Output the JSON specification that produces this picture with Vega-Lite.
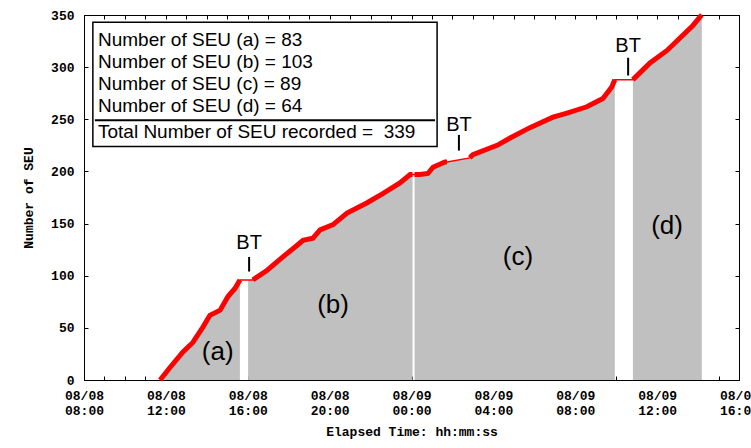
{
  "$schema": "https://vega.github.io/schema/vega-lite/v6.json",
  "width": 655,
  "height": 365,
  "autosize": "none",
  "padding": {"left": 84, "top": 15, "right": 12, "bottom": 68},
  "background": "white",
  "config": {
    "view": {"stroke": "black", "strokeWidth": 1},
    "axis": {
      "labelFont": "Liberation Mono", "labelFontWeight": "bold", "labelFontSize": 13, "labelColor": "black",
      "titleFont": "Liberation Mono", "titleFontWeight": "bold", "titleFontSize": 13, "titleColor": "black",
      "tickColor": "black", "domainColor": "black", "grid": false
    }
  },
  "datasets": {
    "seu": [
      {"t": "2008-08-08T11:43", "n": 0, "seg": "a", "run": "a"},
      {"t": "2008-08-08T12:12", "n": 12, "seg": "a", "run": "a"},
      {"t": "2008-08-08T12:50", "n": 27, "seg": "a", "run": "a"},
      {"t": "2008-08-08T13:19", "n": 36, "seg": "a", "run": "a"},
      {"t": "2008-08-08T13:49", "n": 51, "seg": "a", "run": "a"},
      {"t": "2008-08-08T14:09", "n": 62, "seg": "a", "run": "a"},
      {"t": "2008-08-08T14:39", "n": 67, "seg": "a", "run": "a"},
      {"t": "2008-08-08T15:02", "n": 80, "seg": "a", "run": "a"},
      {"t": "2008-08-08T15:23", "n": 88, "seg": "a", "run": "a"},
      {"t": "2008-08-08T15:37", "n": 96, "seg": "a", "run": "a"},
      {"t": "2008-08-08T16:01", "n": 96, "seg": "b", "run": "b0"},
      {"t": "2008-08-08T16:15", "n": 96, "seg": "b", "run": "b"},
      {"t": "2008-08-08T16:56", "n": 105, "seg": "b", "run": "b"},
      {"t": "2008-08-08T17:43", "n": 118, "seg": "b", "run": "b"},
      {"t": "2008-08-08T18:24", "n": 129, "seg": "b", "run": "b"},
      {"t": "2008-08-08T18:42", "n": 134, "seg": "b", "run": "b"},
      {"t": "2008-08-08T19:11", "n": 136, "seg": "b", "run": "b"},
      {"t": "2008-08-08T19:32", "n": 144, "seg": "b", "run": "b"},
      {"t": "2008-08-08T20:10", "n": 149, "seg": "b", "run": "b"},
      {"t": "2008-08-08T20:51", "n": 160, "seg": "b", "run": "b"},
      {"t": "2008-08-08T21:50", "n": 170, "seg": "b", "run": "b"},
      {"t": "2008-08-08T22:37", "n": 179, "seg": "b", "run": "b"},
      {"t": "2008-08-08T23:26", "n": 189, "seg": "b", "run": "b"},
      {"t": "2008-08-08T23:56", "n": 197, "seg": "b", "run": "b"},
      {"t": "2008-08-09T00:03", "n": 197, "seg": "b", "run": "b"},
      {"t": "2008-08-09T00:09", "n": 197, "seg": "c", "run": "c1"},
      {"t": "2008-08-09T00:25", "n": 197, "seg": "c", "run": "c1"},
      {"t": "2008-08-09T00:48", "n": 198, "seg": "c", "run": "c1"},
      {"t": "2008-08-09T01:03", "n": 204, "seg": "c", "run": "c1"},
      {"t": "2008-08-09T01:38", "n": 209, "seg": "c", "run": "c1"},
      {"t": "2008-08-09T01:44", "n": 209, "seg": "c", "run": "c1"},
      {"t": "2008-08-09T02:51", "n": 213, "seg": "c", "run": "c2"},
      {"t": "2008-08-09T03:00", "n": 216, "seg": "c", "run": "c2"},
      {"t": "2008-08-09T04:11", "n": 225, "seg": "c", "run": "c2"},
      {"t": "2008-08-09T04:49", "n": 232, "seg": "c", "run": "c2"},
      {"t": "2008-08-09T05:47", "n": 242, "seg": "c", "run": "c2"},
      {"t": "2008-08-09T06:55", "n": 252, "seg": "c", "run": "c2"},
      {"t": "2008-08-09T07:36", "n": 256, "seg": "c", "run": "c2"},
      {"t": "2008-08-09T08:34", "n": 262, "seg": "c", "run": "c2"},
      {"t": "2008-08-09T09:21", "n": 270, "seg": "c", "run": "c2"},
      {"t": "2008-08-09T09:47", "n": 281, "seg": "c", "run": "c2"},
      {"t": "2008-08-09T09:56", "n": 288, "seg": "c", "run": "c2"},
      {"t": "2008-08-09T10:49", "n": 288, "seg": "d", "run": "d"},
      {"t": "2008-08-09T11:39", "n": 304, "seg": "d", "run": "d"},
      {"t": "2008-08-09T12:29", "n": 316, "seg": "d", "run": "d"},
      {"t": "2008-08-09T13:07", "n": 328, "seg": "d", "run": "d"},
      {"t": "2008-08-09T13:45", "n": 340, "seg": "d", "run": "d"},
      {"t": "2008-08-09T14:05", "n": 348, "seg": "d", "run": "d"},
      {"t": "2008-08-09T14:11", "n": 350, "seg": "d", "run": "d"}
    ],
    "frameBox": [
      {"t1": "2008-08-08T08:26", "t2": "2008-08-09T01:15", "n1": 224, "n2": 343}
    ],
    "sepLine": [
      {"t1": "2008-08-08T08:32", "t2": "2008-08-09T01:09", "n": 249}
    ],
    "legendText": [
      {"t": "2008-08-08T08:41", "n": 326, "label": "Number of SEU (a) = 83"},
      {"t": "2008-08-08T08:41", "n": 305, "label": "Number of SEU (b) = 103"},
      {"t": "2008-08-08T08:41", "n": 284, "label": "Number of SEU (c) = 89"},
      {"t": "2008-08-08T08:41", "n": 263, "label": "Number of SEU (d) = 64"},
      {"t": "2008-08-08T08:41", "n": 238, "label": "Total Number of SEU recorded = \u00a0339"}
    ],
    "segLabels": [
      {"t": "2008-08-08T14:32", "n": 27, "label": "(a)"},
      {"t": "2008-08-08T20:10", "n": 72, "label": "(b)"},
      {"t": "2008-08-09T05:12", "n": 118, "label": "(c)"},
      {"t": "2008-08-09T12:29", "n": 148, "label": "(d)"}
    ],
    "btMarks": [
      {"t": "2008-08-08T16:04", "n": 131, "lo": 104, "hi": 118, "label": "BT"},
      {"t": "2008-08-09T02:19", "n": 245, "lo": 220, "hi": 235, "label": "BT"},
      {"t": "2008-08-09T10:35", "n": 320, "lo": 292, "hi": 309, "label": "BT"}
    ]
  },
  "layer": [
    {
      "data": {"name": "seu"},
      "mark": {"type": "area", "color": "#c0c0c0", "opacity": 1},
      "encoding": {
        "x": {
          "field": "t", "type": "temporal",
          "scale": {"domain": [{"year": 2008, "month": 8, "date": 8, "hours": 8}, {"year": 2008, "month": 8, "date": 9, "hours": 16}], "nice": false},
          "axis": {
            "title": "Elapsed Time: hh:mm:ss",
            "values": [
              {"year": 2008, "month": 8, "date": 8, "hours": 8},
              {"year": 2008, "month": 8, "date": 8, "hours": 9},
              {"year": 2008, "month": 8, "date": 8, "hours": 10},
              {"year": 2008, "month": 8, "date": 8, "hours": 11},
              {"year": 2008, "month": 8, "date": 8, "hours": 12},
              {"year": 2008, "month": 8, "date": 8, "hours": 13},
              {"year": 2008, "month": 8, "date": 8, "hours": 14},
              {"year": 2008, "month": 8, "date": 8, "hours": 15},
              {"year": 2008, "month": 8, "date": 8, "hours": 16},
              {"year": 2008, "month": 8, "date": 8, "hours": 17},
              {"year": 2008, "month": 8, "date": 8, "hours": 18},
              {"year": 2008, "month": 8, "date": 8, "hours": 19},
              {"year": 2008, "month": 8, "date": 8, "hours": 20},
              {"year": 2008, "month": 8, "date": 8, "hours": 21},
              {"year": 2008, "month": 8, "date": 8, "hours": 22},
              {"year": 2008, "month": 8, "date": 8, "hours": 23},
              {"year": 2008, "month": 8, "date": 9, "hours": 0},
              {"year": 2008, "month": 8, "date": 9, "hours": 1},
              {"year": 2008, "month": 8, "date": 9, "hours": 2},
              {"year": 2008, "month": 8, "date": 9, "hours": 3},
              {"year": 2008, "month": 8, "date": 9, "hours": 4},
              {"year": 2008, "month": 8, "date": 9, "hours": 5},
              {"year": 2008, "month": 8, "date": 9, "hours": 6},
              {"year": 2008, "month": 8, "date": 9, "hours": 7},
              {"year": 2008, "month": 8, "date": 9, "hours": 8},
              {"year": 2008, "month": 8, "date": 9, "hours": 9},
              {"year": 2008, "month": 8, "date": 9, "hours": 10},
              {"year": 2008, "month": 8, "date": 9, "hours": 11},
              {"year": 2008, "month": 8, "date": 9, "hours": 12},
              {"year": 2008, "month": 8, "date": 9, "hours": 13},
              {"year": 2008, "month": 8, "date": 9, "hours": 14},
              {"year": 2008, "month": 8, "date": 9, "hours": 15},
              {"year": 2008, "month": 8, "date": 9, "hours": 16}
            ],
            "labelExpr": "hours(datum.value) % 4 == 0 ? [timeFormat(datum.value, '%m/%d'), timeFormat(datum.value, '%H:%M')] : ['', '']",
            "labelOverlap": false, "labelFlush": false, "labelBound": false,
            "labelLineHeight": 15,
            "tickSize": -4, "labelPadding": 13, "titlePadding": 8
          }
        },
        "y": {
          "field": "n", "type": "quantitative", "stack": null,
          "scale": {"domain": [0, 350], "nice": false},
          "axis": {
            "title": "Number of SEU",
            "values": [0, 50, 100, 150, 200, 250, 300, 350],
            "tickSize": -4, "labelPadding": 14, "titlePadding": 15
          }
        },
        "detail": {"field": "seg"}
      }
    },
    {
      "data": {"name": "seu"},
      "mark": {"type": "point", "opacity": 0},
      "encoding": {
        "x": {
          "field": "t", "type": "temporal",
          "axis": {
            "orient": "top", "title": null, "labels": false, "tickSize": -4,
            "values": [
              {"year": 2008, "month": 8, "date": 8, "hours": 8},
              {"year": 2008, "month": 8, "date": 8, "hours": 9},
              {"year": 2008, "month": 8, "date": 8, "hours": 10},
              {"year": 2008, "month": 8, "date": 8, "hours": 11},
              {"year": 2008, "month": 8, "date": 8, "hours": 12},
              {"year": 2008, "month": 8, "date": 8, "hours": 13},
              {"year": 2008, "month": 8, "date": 8, "hours": 14},
              {"year": 2008, "month": 8, "date": 8, "hours": 15},
              {"year": 2008, "month": 8, "date": 8, "hours": 16},
              {"year": 2008, "month": 8, "date": 8, "hours": 17},
              {"year": 2008, "month": 8, "date": 8, "hours": 18},
              {"year": 2008, "month": 8, "date": 8, "hours": 19},
              {"year": 2008, "month": 8, "date": 8, "hours": 20},
              {"year": 2008, "month": 8, "date": 8, "hours": 21},
              {"year": 2008, "month": 8, "date": 8, "hours": 22},
              {"year": 2008, "month": 8, "date": 8, "hours": 23},
              {"year": 2008, "month": 8, "date": 9, "hours": 0},
              {"year": 2008, "month": 8, "date": 9, "hours": 1},
              {"year": 2008, "month": 8, "date": 9, "hours": 2},
              {"year": 2008, "month": 8, "date": 9, "hours": 3},
              {"year": 2008, "month": 8, "date": 9, "hours": 4},
              {"year": 2008, "month": 8, "date": 9, "hours": 5},
              {"year": 2008, "month": 8, "date": 9, "hours": 6},
              {"year": 2008, "month": 8, "date": 9, "hours": 7},
              {"year": 2008, "month": 8, "date": 9, "hours": 8},
              {"year": 2008, "month": 8, "date": 9, "hours": 9},
              {"year": 2008, "month": 8, "date": 9, "hours": 10},
              {"year": 2008, "month": 8, "date": 9, "hours": 11},
              {"year": 2008, "month": 8, "date": 9, "hours": 12},
              {"year": 2008, "month": 8, "date": 9, "hours": 13},
              {"year": 2008, "month": 8, "date": 9, "hours": 14},
              {"year": 2008, "month": 8, "date": 9, "hours": 15},
              {"year": 2008, "month": 8, "date": 9, "hours": 16}
            ]
          }
        },
        "y": {
          "field": "n", "type": "quantitative",
          "axis": {"orient": "right", "title": null, "labels": false, "tickSize": -4, "values": [0, 50, 100, 150, 200, 250, 300, 350]}
        }
      }
    },
    {
      "data": {"name": "seu"},
      "mark": {"type": "line", "color": "#ff0000", "strokeWidth": 1.5},
      "encoding": {
        "x": {"field": "t", "type": "temporal", "axis": null},
        "y": {"field": "n", "type": "quantitative", "axis": null}
      }
    },
    {
      "data": {"name": "seu"},
      "mark": {"type": "line", "color": "#ff0000", "strokeWidth": 5},
      "encoding": {
        "x": {"field": "t", "type": "temporal", "axis": null},
        "y": {"field": "n", "type": "quantitative", "axis": null},
        "detail": {"field": "run"}
      }
    },
    {
      "data": {"name": "frameBox"},
      "mark": {"type": "rect", "fill": "white", "stroke": "black", "strokeWidth": 1.5},
      "encoding": {
        "x": {"field": "t1", "type": "temporal", "axis": null},
        "x2": {"field": "t2"},
        "y": {"field": "n1", "type": "quantitative", "axis": null},
        "y2": {"field": "n2"}
      }
    },
    {
      "data": {"name": "sepLine"},
      "mark": {"type": "rule", "color": "black", "strokeWidth": 2},
      "encoding": {
        "x": {"field": "t1", "type": "temporal", "axis": null},
        "x2": {"field": "t2"},
        "y": {"field": "n", "type": "quantitative", "axis": null}
      }
    },
    {
      "data": {"name": "legendText"},
      "mark": {"type": "text", "align": "left", "baseline": "middle", "font": "Liberation Sans", "fontSize": 19, "color": "black"},
      "encoding": {
        "x": {"field": "t", "type": "temporal", "axis": null},
        "y": {"field": "n", "type": "quantitative", "axis": null},
        "text": {"field": "label"}
      }
    },
    {
      "data": {"name": "segLabels"},
      "mark": {"type": "text", "align": "center", "baseline": "middle", "font": "Liberation Sans", "fontSize": 26, "color": "black"},
      "encoding": {
        "x": {"field": "t", "type": "temporal", "axis": null},
        "y": {"field": "n", "type": "quantitative", "axis": null},
        "text": {"field": "label"}
      }
    },
    {
      "data": {"name": "btMarks"},
      "mark": {"type": "text", "align": "center", "baseline": "middle", "font": "Liberation Sans", "fontSize": 20, "color": "black"},
      "encoding": {
        "x": {"field": "t", "type": "temporal", "axis": null},
        "y": {"field": "n", "type": "quantitative", "axis": null},
        "text": {"field": "label"}
      }
    },
    {
      "data": {"name": "btMarks"},
      "mark": {"type": "rule", "color": "black", "strokeWidth": 2},
      "encoding": {
        "x": {"field": "t", "type": "temporal", "axis": null},
        "y": {"field": "lo", "type": "quantitative", "axis": null},
        "y2": {"field": "hi"}
      }
    }
  ],
  "resolve": {"axis": {"x": "independent", "y": "independent"}}
}
